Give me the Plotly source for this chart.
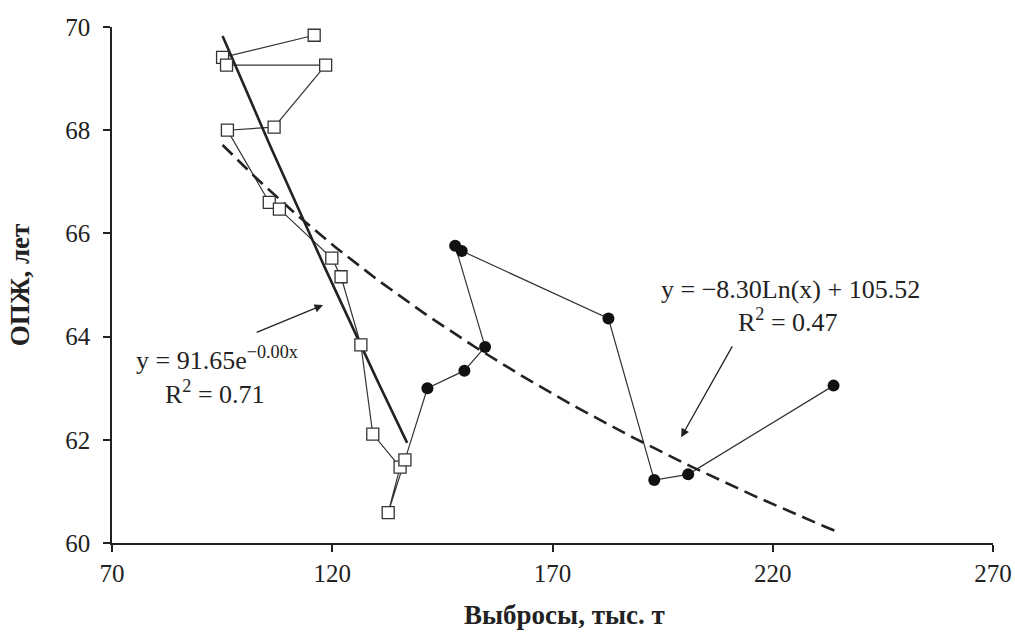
import numpy as np
import plotly.graph_objects as go

# --- data ---
sq_x = [115.9, 95.1, 96.0, 118.5, 106.8, 96.2, 105.7, 108.0, 119.9, 122.0, 126.5, 129.2, 135.4, 132.7, 136.5]
sq_y = [69.84, 69.41, 69.26, 69.26, 68.06, 68.00, 66.60, 66.47, 65.52, 65.16, 63.84, 62.11, 61.47, 60.59, 61.61]
ci_x = [141.6, 150.0, 154.7, 147.9, 149.4, 182.7, 193.1, 200.8, 233.8]
ci_y = [63.00, 63.34, 63.80, 65.76, 65.66, 64.35, 61.22, 61.33, 63.05]

# trend line parameters (from equations on the chart)
exp_a, exp_b = 91.65, -0.00286
exp_range = [95.1, 137.0]
log_a, log_b = -8.30, 105.52
log_range = [95.1, 234.1]

x_ticks = [70, 120, 170, 220, 270]
y_ticks = [60, 62, 64, 66, 68, 70]

serif = "Liberation Serif"
ink = "#222222"

fig = go.Figure()

# connecting line through all points in sequence
all_x = sq_x + ci_x
all_y = sq_y + ci_y
fig.add_trace(go.Scatter(x=all_x, y=all_y, mode="lines",
                         line=dict(color="#333333", width=1.2), showlegend=False))

# trend lines
xe = np.linspace(exp_range[0], exp_range[1], 60)
fig.add_trace(go.Scatter(x=xe, y=exp_a * np.exp(exp_b * xe), mode="lines",
                         line=dict(color=ink, width=2.6), showlegend=False))
xl = np.linspace(log_range[0], log_range[1], 120)
fig.add_trace(go.Scatter(x=xl, y=log_a * np.log(xl) + log_b, mode="lines",
                         line=dict(color=ink, width=2.6, dash="14px,7px"), showlegend=False))

# markers
fig.add_trace(go.Scatter(x=sq_x, y=sq_y, mode="markers",
                         marker=dict(symbol="square", size=12, color="white",
                                     line=dict(color="#333333", width=1.3)),
                         showlegend=False))
fig.add_trace(go.Scatter(x=ci_x, y=ci_y, mode="markers",
                         marker=dict(symbol="circle", size=12, color="#111111"),
                         showlegend=False))

ann_font = dict(family=serif, size=26, color=ink)
annotations = [
    dict(x=93.8, y=63.58, text="y = 91.65e<sup>−0.00x</sup>"),
    dict(x=93.4, y=62.91, text="R<sup>2</sup> = 0.71"),
    dict(x=224.1, y=64.92, text="y = −8.30Ln(x) + 105.52"),
    dict(x=223.5, y=64.32, text="R<sup>2</sup> = 0.47"),
]
for a in annotations:
    fig.add_annotation(xref="x", yref="y", showarrow=False, font=ann_font, **a)

# arrows
for (tx, ty, hx, hy) in [(102.5, 64.07, 117.9, 64.61), (211.0, 63.84, 199.2, 62.05)]:
    fig.add_annotation(x=hx, y=hy, ax=tx, ay=ty, xref="x", yref="y", axref="x", ayref="y",
                       text="", showarrow=True, arrowhead=2, arrowsize=1.3,
                       arrowwidth=1.3, arrowcolor=ink)

# x axis title (placed as an annotation to match the reference's slight right offset)
fig.add_annotation(xref="paper", yref="paper", x=0.514, y=-0.14, xanchor="center", yanchor="middle",
                   showarrow=False, text="<b>Выбросы, тыс. т</b>",
                   font=dict(family=serif, size=27, color=ink))

axis_common = dict(showline=True, linecolor=ink, linewidth=1.5, ticks="outside",
                   ticklen=7, tickwidth=1.5, tickcolor=ink, showgrid=False, zeroline=False,
                   automargin=False,
                   tickfont=dict(family=serif, size=25, color=ink))

fig.update_layout(
    width=1015, height=633,
    margin=dict(l=112, r=22, t=27, b=90),
    paper_bgcolor="white", plot_bgcolor="white",
    xaxis=dict(range=[70, 270], tickvals=x_ticks, **axis_common),
    yaxis=dict(range=[60, 70], tickvals=y_ticks, ticklabelstandoff=8,
               title=dict(text="<b>ОПЖ, лет</b>", standoff=28,
                          font=dict(family=serif, size=27, color=ink)),
               **axis_common),
)

# remove the browser's default 8px body margin so the figure fills the window exactly
fig.write_html("out.html", config={"displayModeBar": False},
               post_script="document.body.style.margin='0';")
